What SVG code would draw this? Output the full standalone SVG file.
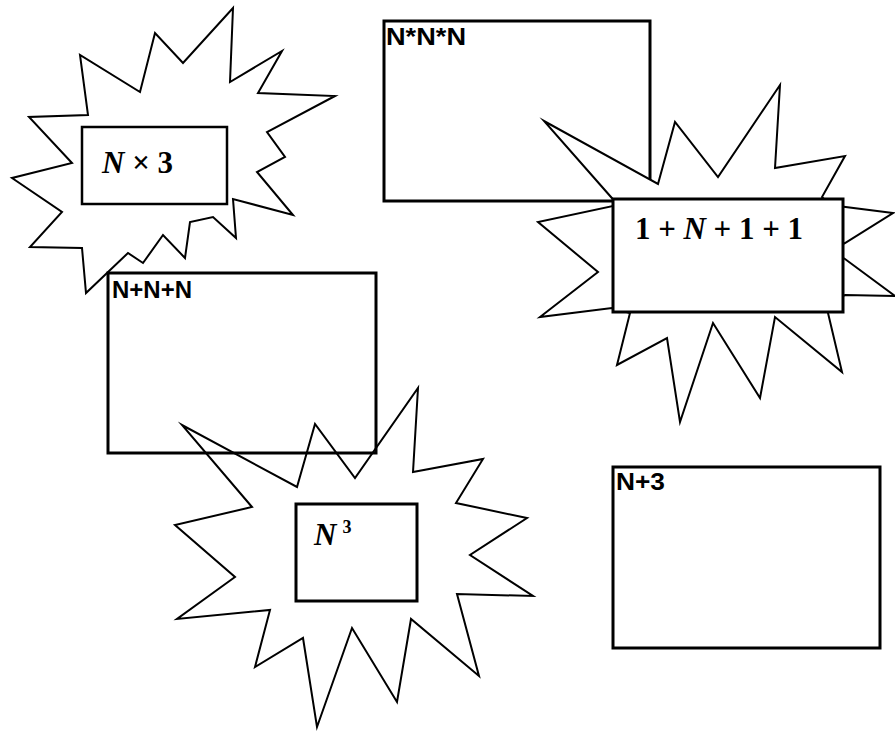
<svg xmlns="http://www.w3.org/2000/svg" width="895" height="732" viewBox="0 0 895 732">
<style>
.bg{fill:#fff}
.box{fill:#fff;stroke:#000;stroke-width:3}
.open{fill:none;stroke:#000;stroke-width:3}
.burst{fill:#fff;stroke:#000;stroke-width:2;stroke-linejoin:miter;stroke-miterlimit:20}
.lbl{font-family:"Liberation Sans",Arial,sans-serif;font-weight:bold;font-size:23px;fill:#000}
.math{font-family:"Liberation Serif","Times New Roman",serif;font-weight:bold;font-size:31px;fill:#000}
.it{font-style:italic}
</style>
<rect class="bg" x="0" y="0" width="895" height="732"/>

<g id="box-nnn-mul">
<rect class="box" x="384" y="21" width="266" height="180"/>
<text class="lbl" x="386" y="45" textLength="80" lengthAdjust="spacingAndGlyphs">N*N*N</text>
</g>

<g id="burst-1n11">
<polygon class="burst" points="780,85 775,168 845,156 822,197 830,205 893,213 845,243 830,250 845,259 895,296 845,295 830,305 828,313 842,372 775,317 760,398 713,323 680,422 667,338 617,365 630,313 612,308 540,317 598,272 538,222 618,205 544,121 658,184 675,122 718,177"/>
<rect class="box" x="613" y="199" width="230" height="113"/>
<text class="math" x="635" y="239" textLength="168" lengthAdjust="spacing">1 + <tspan class="it">N</tspan> + 1 + 1</text>
</g>

<g id="burst-nx3">
<polygon class="burst" points="233,8 230,82 282,51 258,93 335,96 267,132 285,157 257,172 293,215 233,199 236,238 213,217 190,222 185,258 163,235 143,263 128,253 107,273 86,293 82,248 30,247 62,212 12,178 72,163 29,117 88,115 80,55 140,92 155,33 183,63"/>
<rect class="box" style="stroke-width:2.5" x="82" y="127" width="145" height="77"/>
<text class="math" x="102" y="173"><tspan class="it">N</tspan> × 3</text>
</g>

<g id="burst-n3">
<polygon class="burst" points="418,388 413,472 483,459 456,503 527,518 470,555 533,596 457,594 479,676 411,619 397,702 352,628 317,727 303,638 255,667 270,610 177,619 235,577 175,525 252,507 182,425 297,487 315,424 355,478"/>
<rect class="box" x="296" y="504" width="121" height="97"/>
<text class="math" x="314" y="545"><tspan class="it">N</tspan><tspan font-size="18" dx="6" dy="-12">3</tspan></text>
</g>

<g id="box-nnn-add">
<rect class="open" x="108" y="273" width="268" height="180"/>
<text class="lbl" x="112" y="298" textLength="80" lengthAdjust="spacingAndGlyphs">N+N+N</text>
</g>

<g id="box-n3-add">
<rect class="box" x="613" y="467" width="267" height="181"/>
<text class="lbl" x="616" y="490" textLength="49" lengthAdjust="spacingAndGlyphs">N+3</text>
</g>
</svg>
